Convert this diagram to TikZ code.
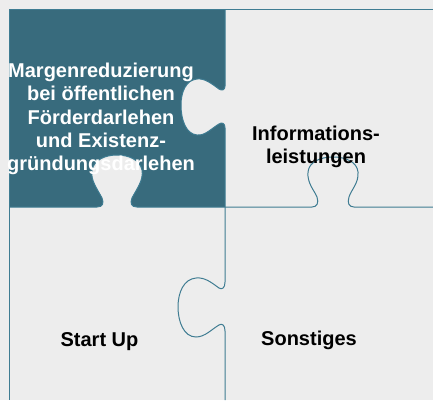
\documentclass[tikz,border=0pt]{standalone}
\usepackage{fontspec}
\setmainfont{Liberation Sans}
\definecolor{bggrey}{HTML}{EDEDED}
\definecolor{petrol}{HTML}{386B7D}
\definecolor{edge}{HTML}{3F7C92}
\begin{document}
\begin{tikzpicture}
[x=1pt,y=-1pt,
edge/.style={draw=edge,line width=1pt,line join=round},
label/.style={font=\bfseries\fontsize{20}{23.4}\selectfont,align=center,inner sep=0pt},
dark/.style={fill=petrol}]
\useasboundingbox (0,0) rectangle (433,400);
\fill[bggrey] (0,0) rectangle (433,400);
%tl piece
	\path[dark] (9,9) -- (225,9) -- (225,86)
	.. controls (225,90) and (222,91) .. (219,89)
	.. controls (212,84) and (205,78) .. (197,79)
	.. controls (186,80) and (181,92) .. (181,105)
	.. controls (181,120) and (186,134) .. (197,135)
	.. controls (205,136) and (212,128) .. (219,124)
	.. controls (222,122) and (225,123) .. (225,128)
	-- (225,207) -- (137,207)
	.. controls (131,207) and (130,203) .. (132,198)
	.. controls (136,190) and (144,180) .. (142,170)
	.. controls (140,160) and (129,155) .. (117,155)
	.. controls (105,155) and (94,160) .. (92,170)
	.. controls (90,180) and (98,190) .. (102,198)
	.. controls (104,203) and (103,207) .. (97,207)
	-- (9,207) -- cycle;
%outer edges
	\draw[edge] (433,9) -- (9,9) -- (9,400);
%vertical cut
	\draw[edge] (225,9) -- (225,86)
	.. controls (225,90) and (222,91) .. (219,89)
	.. controls (212,84) and (205,78) .. (197,79)
	.. controls (186,80) and (181,92) .. (181,105)
	.. controls (181,120) and (186,134) .. (197,135)
	.. controls (205,136) and (212,128) .. (219,124)
	.. controls (222,122) and (225,123) .. (225,128)
	-- (225,282)
	.. controls (225,288) and (222,290) .. (219,288)
	.. controls (212,283) and (205,277) .. (196,278)
	.. controls (184,279) and (178,292) .. (178,307)
	.. controls (178,322) and (184,337) .. (196,337)
	.. controls (205,337) and (212,329) .. (219,325)
	.. controls (222,323) and (225,325) .. (225,331)
	-- (225,400);
%horizontal cut
	\draw[edge] (9,207) -- (97,207)
	.. controls (103,207) and (104,203) .. (102,198)
	.. controls (98,190) and (90,180) .. (92,170)
	.. controls (94,160) and (105,155) .. (117,155)
	.. controls (129,155) and (140,160) .. (142,170)
	.. controls (144,180) and (136,190) .. (132,198)
	.. controls (130,203) and (131,207) .. (137,207)
	-- (312,207)
	.. controls (317,207) and (319,203) .. (317,197)
	.. controls (314,190) and (307,183) .. (308,172)
	.. controls (309,162) and (320,157) .. (333,157)
	.. controls (346,157) and (357,162) .. (358,172)
	.. controls (359,183) and (351,190) .. (349,197)
	.. controls (347,203) and (349,207) .. (354,207)
	-- (433,207);
%labels
	\node[label,text=white] (marge) at (101,119) {Margenreduzierung\\bei öffentlichen\\Förderdarlehen\\und Existenz-\\gründungsdarlehen};
	\node[label] (info) at (316,147) {Informations-\\leistungen};
	\node[label] (start) at (99.5,341.5) {Start Up};
	\node[label] (sonst) at (309,340) {Sonstiges};
\end{tikzpicture}
\end{document}
